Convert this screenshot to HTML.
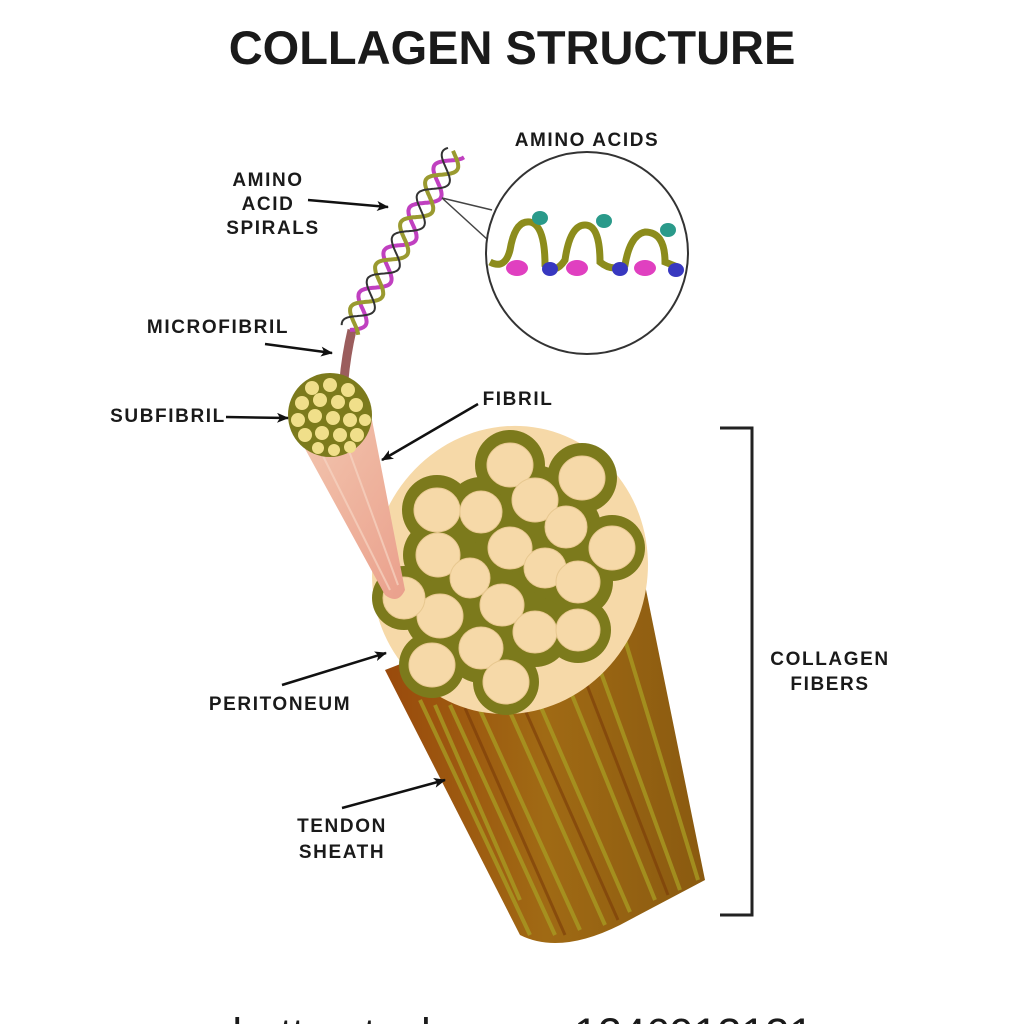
<!DOCTYPE html>
<html><head><meta charset="utf-8"><style>
html,body{margin:0;padding:0;background:#fff;width:1024px;height:1024px;overflow:hidden}
text{font-family:"Liberation Sans",sans-serif;font-weight:bold;fill:#1a1a1a}
.l{font-size:19px;letter-spacing:1.6px}
</style></head><body>
<svg width="1024" height="1024" viewBox="0 0 1024 1024" xmlns="http://www.w3.org/2000/svg">
<defs>
<marker id="ah" markerWidth="12" markerHeight="10" refX="11" refY="5" orient="auto" markerUnits="userSpaceOnUse">
<path d="M0,0 L12,5 L0,10 L3,5 Z" fill="#111"/></marker>
<linearGradient id="pink" x1="0" y1="0" x2="1" y2="1"><stop offset="0" stop-color="#f3c7b0"/><stop offset="1" stop-color="#eaa08c"/></linearGradient>
<linearGradient id="body" x1="0" y1="0" x2="1" y2="0"><stop offset="0" stop-color="#9a4a0c"/><stop offset="0.5" stop-color="#a06a14"/><stop offset="1" stop-color="#8a5a10"/></linearGradient>
</defs>
<text x="512" y="64" font-size="47" text-anchor="middle">COLLAGEN STRUCTURE</text>

<!-- body -->
<path d="M385,670 L520,935 Q560,955 620,925 L705,880 L642,570 Z" fill="url(#body)"/>
<g stroke="#a89a22" stroke-width="4" opacity="0.8">
<line x1="420" y1="700" x2="530" y2="935"/><line x1="450" y1="705" x2="555" y2="935"/><line x1="480" y1="710" x2="580" y2="930"/>
<line x1="510" y1="712" x2="605" y2="925"/><line x1="540" y1="705" x2="630" y2="912"/><line x1="570" y1="690" x2="655" y2="900"/>
<line x1="600" y1="670" x2="680" y2="890"/><line x1="625" y1="640" x2="698" y2="880"/><line x1="435" y1="705" x2="520" y2="900"/>
</g>
<g stroke="#7a3a08" stroke-width="3" opacity="0.6">
<line x1="465" y1="708" x2="565" y2="935"/><line x1="525" y1="710" x2="618" y2="920"/><line x1="585" y1="680" x2="668" y2="895"/>
</g>
<!-- top face -->
<ellipse cx="510" cy="570" rx="137" ry="145" transform="rotate(20 510 570)" fill="#f6d9a8"/>
<g fill="#7c7a1c">
<circle cx="510" cy="465" r="35"/><circle cx="582" cy="478" r="35"/><circle cx="437" cy="510" r="35"/><circle cx="481" cy="512" r="35"/><circle cx="535" cy="500" r="35"/><circle cx="566" cy="527" r="35"/><circle cx="612" cy="548" r="33"/><circle cx="438" cy="555" r="35"/><circle cx="510" cy="548" r="35"/><circle cx="545" cy="568" r="35"/><circle cx="470" cy="578" r="35"/><circle cx="440" cy="616" r="35"/><circle cx="502" cy="605" r="35"/><circle cx="578" cy="582" r="35"/><circle cx="404" cy="598" r="32"/><circle cx="481" cy="648" r="35"/><circle cx="535" cy="632" r="35"/><circle cx="578" cy="630" r="33"/><circle cx="432" cy="665" r="33"/><circle cx="506" cy="682" r="33"/>
</g>
<g fill="#f6d9a8" stroke="#e8c890" stroke-width="1">
<ellipse cx="510" cy="465" rx="23" ry="22"/><ellipse cx="582" cy="478" rx="23" ry="22"/><ellipse cx="437" cy="510" rx="23" ry="22"/><ellipse cx="481" cy="512" rx="21" ry="21"/><ellipse cx="535" cy="500" rx="23" ry="22"/><ellipse cx="566" cy="527" rx="21" ry="21"/><ellipse cx="612" cy="548" rx="23" ry="22"/><ellipse cx="438" cy="555" rx="22" ry="22"/><ellipse cx="510" cy="548" rx="22" ry="21"/><ellipse cx="545" cy="568" rx="21" ry="20"/><ellipse cx="470" cy="578" rx="20" ry="20"/><ellipse cx="440" cy="616" rx="23" ry="22"/><ellipse cx="502" cy="605" rx="22" ry="21"/><ellipse cx="578" cy="582" rx="22" ry="21"/><ellipse cx="404" cy="598" rx="21" ry="21"/><ellipse cx="481" cy="648" rx="22" ry="21"/><ellipse cx="535" cy="632" rx="22" ry="21"/><ellipse cx="578" cy="630" rx="22" ry="21"/><ellipse cx="432" cy="665" rx="23" ry="22"/><ellipse cx="506" cy="682" rx="23" ry="22"/>
</g>
<!-- fibril cone -->
<path d="M292,425 Q330,455 372,420 L405,590 Q398,605 385,595 Z" fill="url(#pink)"/>
<g stroke="#f7d5c3" stroke-width="2" opacity="0.7"><line x1="315" y1="440" x2="390" y2="590"/><line x1="345" y1="440" x2="398" y2="585"/></g>
<!-- microfibril stem -->
<path d="M343,392 Q345,360 352,330" stroke="#9b5d5d" stroke-width="9" fill="none"/>
<!-- subfibril -->
<circle cx="330" cy="415" r="42" fill="#7c7a1c"/>
<g fill="#f0df8a">
<circle cx="312" cy="388" r="7"/><circle cx="330" cy="385" r="7"/><circle cx="348" cy="390" r="7"/>
<circle cx="302" cy="403" r="7"/><circle cx="320" cy="400" r="7"/><circle cx="338" cy="402" r="7"/><circle cx="356" cy="405" r="7"/>
<circle cx="298" cy="420" r="7"/><circle cx="315" cy="416" r="7"/><circle cx="333" cy="418" r="7"/><circle cx="350" cy="420" r="7"/><circle cx="365" cy="420" r="6"/>
<circle cx="305" cy="435" r="7"/><circle cx="322" cy="433" r="7"/><circle cx="340" cy="435" r="7"/><circle cx="357" cy="435" r="7"/>
<circle cx="318" cy="448" r="6"/><circle cx="334" cy="450" r="6"/><circle cx="350" cy="447" r="6"/>
</g>
<!-- helix -->
<g id="helix" fill="none"></g>
<script>
(function(){
var g=document.getElementById('helix');
var x0=350,y0=330,x1=455,y1=152,dx=x1-x0,dy=y1-y0,L=Math.hypot(dx,dy),px=-dy/L,py=dx/L;
var cols=[['#c040c0',0,4],['#9a9a30',2.1,4],['#333',4.2,2]];
cols.forEach(function(c){var d='';for(var i=0;i<=200;i++){var t=i/200,a=4.2*t*2*Math.PI+c[1],r=11*Math.sin(a);var x=x0+dx*t+px*r,y=y0+dy*t+py*r;d+=(i?'L':'M')+x.toFixed(1)+','+y.toFixed(1);}
var p=document.createElementNS('http://www.w3.org/2000/svg','path');p.setAttribute('d',d);p.setAttribute('stroke',c[0]);p.setAttribute('stroke-width',c[2]);g.appendChild(p);});
})();
</script>
<!-- zoom lines + circle -->
<line x1="442" y1="198" x2="492" y2="210" stroke="#444" stroke-width="1.5"/>
<line x1="442" y1="198" x2="488" y2="240" stroke="#444" stroke-width="1.5"/>
<circle cx="587" cy="253" r="101" fill="#fff" stroke="#333" stroke-width="2"/>
<g fill="none" stroke="#8c8c1c" stroke-width="7">
<path d="M490,262 Q505,270 510,250 Q515,220 530,222 Q545,225 545,265 Q555,275 565,260 Q570,225 585,225 Q600,225 600,262 Q612,272 625,265 Q630,235 645,232 Q665,232 665,262 L680,268"/>
</g>
<g fill="#e040c0"><ellipse cx="517" cy="268" rx="11" ry="8"/><ellipse cx="577" cy="268" rx="11" ry="8"/><ellipse cx="645" cy="268" rx="11" ry="8"/></g>
<g fill="#3838c0"><ellipse cx="550" cy="269" rx="8" ry="7"/><ellipse cx="620" cy="269" rx="8" ry="7"/><ellipse cx="676" cy="270" rx="8" ry="7"/></g>
<g fill="#2a9a8a"><ellipse cx="540" cy="218" rx="8" ry="7"/><ellipse cx="604" cy="221" rx="8" ry="7"/><ellipse cx="668" cy="230" rx="8" ry="7"/></g>
<!-- bracket -->
<path d="M720,428 L752,428 L752,915 L720,915" fill="none" stroke="#222" stroke-width="3"/>
<!-- labels -->
<text class="l" x="587" y="146" text-anchor="middle">AMINO ACIDS</text>
<text class="l" x="268" y="186" text-anchor="middle">AMINO</text>
<text class="l" x="268" y="210" text-anchor="middle">ACID</text>
<text class="l" x="273" y="234" text-anchor="middle">SPIRALS</text>
<text class="l" x="218" y="333" text-anchor="middle">MICROFIBRIL</text>
<text class="l" x="168" y="422" text-anchor="middle">SUBFIBRIL</text>
<text class="l" x="518" y="405" text-anchor="middle">FIBRIL</text>
<text class="l" x="280" y="710" text-anchor="middle">PERITONEUM</text>
<text class="l" x="342" y="832" text-anchor="middle">TENDON</text>
<text class="l" x="342" y="858" text-anchor="middle">SHEATH</text>
<text class="l" x="830" y="665" text-anchor="middle">COLLAGEN</text>
<text class="l" x="830" y="690" text-anchor="middle">FIBERS</text>
<g stroke="#111" stroke-width="2.5" marker-end="url(#ah)">
<line x1="308" y1="200" x2="388" y2="207"/>
<line x1="265" y1="344" x2="332" y2="353"/>
<line x1="226" y1="417" x2="288" y2="418"/>
<line x1="478" y1="404" x2="382" y2="460"/>
<line x1="282" y1="685" x2="386" y2="653"/>
<line x1="342" y1="808" x2="445" y2="780"/>
</g>
<text x="512" y="1048" font-size="43" style="font-weight:normal" text-anchor="middle">shutterstock.com · 1246913131</text>
</svg>
</body></html>
